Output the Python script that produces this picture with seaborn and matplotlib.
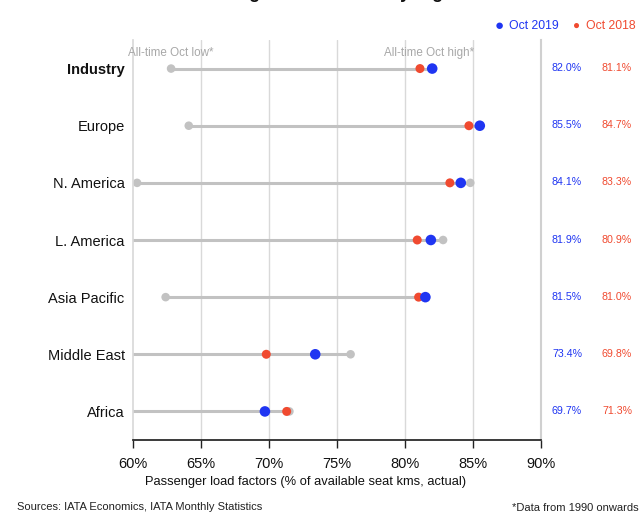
import pandas as pd
import matplotlib.pyplot as plt
import seaborn as sns

sns.set_theme(style="white")
plt.rcParams["font.family"] = ["Liberation Sans", "DejaVu Sans"]

regions = ["Industry", "Europe", "N. America", "L. America", "Asia Pacific", "Middle East", "Africa"]
oct_2019 = [82.0, 85.5, 84.1, 81.9, 81.5, 73.4, 69.7]
oct_2018 = [81.1, 84.7, 83.3, 80.9, 81.0, 69.8, 71.3]
alltime_low = [62.8, 64.1, 60.3, 59.0, 62.4, 59.0, 59.0]
alltime_high = [82.0, 85.5, 84.8, 82.8, 81.5, 76.0, 71.5]

blue = "#1f35f2"
red = "#f04a30"
grey = "#c2c2c2"

df = pd.DataFrame({
    "region": regions,
    "oct_2019": oct_2019,
    "oct_2018": oct_2018,
    "low": alltime_low,
    "high": alltime_high,
})
df["pos"] = range(len(df))

fig = plt.figure(figsize=(6.43, 5.13), dpi=100)
ax = fig.add_axes([133 / 643, 1 - 440 / 513, 408 / 643, 400 / 513])

for x in [65, 70, 75, 80, 85]:
    ax.axvline(x, color="#d9d9d9", linewidth=1, zorder=0)

ax.hlines(df["pos"], df["low"], df["high"], color=grey, linewidth=2.2, zorder=1)
grey_pts = pd.concat([
    df[df["low"] >= 60][["pos", "low"]].rename(columns={"low": "v"}),
    df[df["high"] > df["oct_2019"]][["pos", "high"]].rename(columns={"high": "v"}),
])
sns.scatterplot(data=grey_pts, x="v", y="pos", color=grey, s=38, edgecolor="none", ax=ax, zorder=2)
sns.scatterplot(data=df, x="oct_2018", y="pos", color=red, s=42, edgecolor="none", ax=ax, zorder=3)
sns.scatterplot(data=df, x="oct_2019", y="pos", color=blue, s=58, edgecolor="none", ax=ax, zorder=4)

ax.set_xlim(60, 90)
ax.set_ylim(6.5, -0.5)
ax.set_xticks([60, 65, 70, 75, 80, 85, 90])
ax.set_xticklabels([f"{t}%" for t in [60, 65, 70, 75, 80, 85, 90]], fontsize=10.5, color="#111111")
ax.set_yticks(df["pos"])
ax.set_yticklabels(regions, fontsize=10.5, color="#111111")
ax.get_yticklabels()[0].set_fontweight("bold")
ax.tick_params(axis="x", direction="out", length=6, width=1, color="#222222", pad=6, bottom=True)
ax.tick_params(axis="y", length=0, pad=6)
ax.set_xlabel("")
ax.set_ylabel("")
fig.text(306 / 643, 1 - 482 / 513, "Passenger load factors (% of available seat kms, actual)",
         fontsize=9.3, color="#111111", ha="center", va="center")

ax.spines["top"].set_visible(False)
ax.spines["left"].set_color("#d9d9d9")
ax.spines["right"].set_color("#d0d0d0")
ax.spines["right"].set_linewidth(1.5)
ax.spines["bottom"].set_color("#222222")

ax.text(62.8, -0.28, "All-time Oct low*", ha="center", va="center", fontsize=8.4, color="#a8a8a8")
ax.text(81.8, -0.28, "All-time Oct high*", ha="center", va="center", fontsize=8.4, color="#a8a8a8")

for i in range(len(df)):
    ax.text(567 / 643, 1 - (68 + i * 57.2) / 513, f"{oct_2019[i]:.1f}%", transform=fig.transFigure,
            ha="center", va="center", fontsize=7.7, color=blue)
    ax.text(617 / 643, 1 - (68 + i * 57.2) / 513, f"{oct_2018[i]:.1f}%", transform=fig.transFigure,
            ha="center", va="center", fontsize=7.7, color=red)

fig.text(495 / 643, 1 - 26 / 513, "\u25cf", color=blue, fontsize=11, ha="left", va="center")
fig.text(509 / 643, 1 - 26 / 513, "Oct 2019", color=blue, fontsize=8.8, ha="left", va="center")
fig.text(573 / 643, 1 - 26 / 513, "\u25cf", color=red, fontsize=8.5, ha="left", va="center")
fig.text(586 / 643, 1 - 26 / 513, "Oct 2018", color=red, fontsize=8.8, ha="left", va="center")

fig.text(0.51, 1.003, "Passenger load factors by region", ha="center", va="baseline",
         fontsize=13, fontweight="bold", color="#111111")

fig.text(17 / 643, 1 - 507 / 513, "Sources: IATA Economics, IATA Monthly Statistics", fontsize=8,
         color="#222222", ha="left", va="center")
fig.text(512 / 643, 1 - 508 / 513, "*Data from 1990 onwards", fontsize=8,
         color="#222222", ha="left", va="center")

fig.savefig("out.png", dpi=100)
